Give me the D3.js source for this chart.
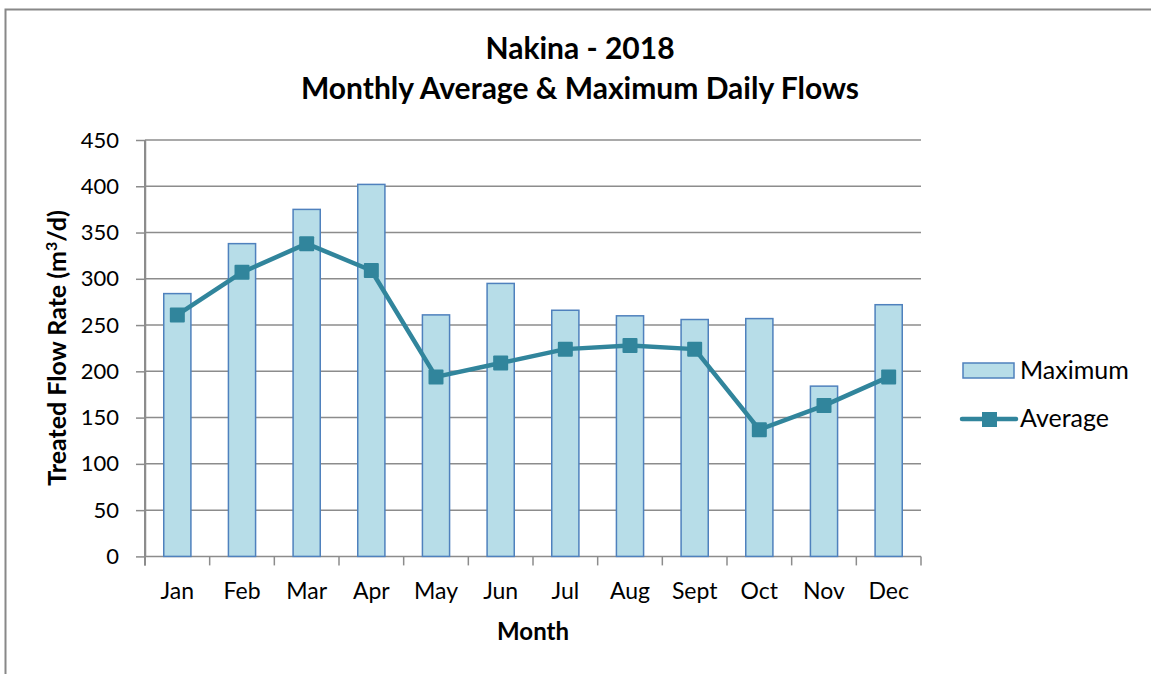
<!DOCTYPE html>
<html lang="en">
<head>
    <meta charset="UTF-8">
    <script src="https://d3js.org/d3.v7.min.js"></script>
    <title>Nakina 2018</title>
    <style>
        body { margin: 0; background: #fff; }
        text { font-family: Lato, "Open Sans", sans-serif; fill: #000; }
    </style>
</head>
<body>
    <script>

        // chart data
        var months = ["Jan", "Feb", "Mar", "Apr", "May", "Jun", "Jul", "Aug", "Sept", "Oct", "Nov", "Dec"];
        var maximum = [284, 338, 375, 402, 261, 295, 266, 260, 256, 257, 184, 272];
        var average = [261, 307, 338, 309, 194, 209, 224, 228, 224, 137, 163, 194];
        var yTicks = [0, 50, 100, 150, 200, 250, 300, 350, 400, 450];

        var width = 1151, height = 674;
        var margin = {top: 140, right: 230, bottom: 117, left: 145};
        var plotRight = 921;

        var svg = d3.select("body")
            .append("svg")
            .attr("width", width)
            .attr("height", height);

        // outer chart border
        svg.append("rect")
            .attr("x", 5.5).attr("y", 9.5)
            .attr("width", width + 20).attr("height", height + 20)
            .attr("fill", "none")
            .attr("stroke", "#888")
            .attr("stroke-width", 2);

        var xScale = d3.scaleBand()
            .domain(months)
            .range([margin.left, plotRight])
            .paddingInner(0.58)
            .paddingOuter(0.29);

        var xBand = d3.scaleBand()
            .domain(months)
            .range([margin.left, plotRight]);

        var yScale = d3.scaleLinear()
            .domain([0, 450])
            .range([height - margin.bottom - 0.6, margin.top]);

        // grid lines
        svg.append("g")
            .selectAll("line")
            .data(yTicks)
            .enter()
            .append("line")
            .attr("x1", margin.left)
            .attr("x2", plotRight)
            .attr("y1", function(d) {return yScale(d)})
            .attr("y2", function(d) {return yScale(d)})
            .attr("stroke", "#8c8c8c")
            .attr("stroke-width", 1.5);

        // y axis
        var yAxis = d3.axisLeft(yScale)
            .tickValues(yTicks)
            .tickSize(9)
            .tickSizeOuter(0)
            .tickPadding(17);

        var gy = svg.append("g")
            .attr("transform", "translate(" + margin.left + ",0)")
            .call(yAxis);
        gy.selectAll("text").style("font-size", "22px");

        // x axis - ticks at band edges
        var xAxisG = svg.append("g")
            .attr("transform", "translate(0," + yScale(0) + ")");

        var edges = months.map(function(m) {return xBand(m)}).concat([plotRight]);
        xAxisG.selectAll("line.tick")
            .data(edges)
            .enter()
            .append("line")
            .attr("class", "tick")
            .attr("x1", function(d) {return d})
            .attr("x2", function(d) {return d})
            .attr("y1", 0)
            .attr("y2", 9);

        xAxisG.selectAll("text")
            .data(months)
            .enter()
            .append("text")
            .attr("x", function(d) {return xBand(d) + xBand.bandwidth() / 2})
            .attr("y", 43)
            .attr("text-anchor", "middle")
            .style("font-size", "23px")
            .text(function(d) {return d});

        svg.selectAll(".domain, .tick line, line.tick")
            .attr("stroke", "#8c8c8c")
            .attr("stroke-width", 1.5);

        svg.append("line")
            .attr("x1", margin.left).attr("x2", margin.left)
            .attr("y1", yScale(450)).attr("y2", yScale(0) + 9)
            .attr("stroke", "#8c8c8c").attr("stroke-width", 2);

        // bars
        svg.append("g")
            .selectAll("rect")
            .data(maximum)
            .enter()
            .append("rect")
            .attr("x", function(d, i) {return xScale(months[i])})
            .attr("y", function(d) {return yScale(d)})
            .attr("width", xScale.bandwidth())
            .attr("height", function(d) {return yScale(0) - yScale(d)})
            .attr("fill", "#b7dde8")
            .attr("stroke", "#4f81bd")
            .attr("stroke-width", 1.5);

        // average line
        var line = d3.line()
            .x(function(d, i) {return xBand(months[i]) + xBand.bandwidth() / 2})
            .y(function(d) {return yScale(d)});

        svg.append("path")
            .datum(average)
            .attr("d", line)
            .attr("fill", "none")
            .attr("stroke", "#31859c")
            .attr("stroke-width", 4.5)
            .attr("stroke-linejoin", "round");

        svg.append("g")
            .selectAll("rect")
            .data(average)
            .enter()
            .append("rect")
            .attr("x", function(d, i) {return xBand(months[i]) + xBand.bandwidth() / 2 - 7.5})
            .attr("y", function(d) {return yScale(d) - 7.5})
            .attr("width", 15)
            .attr("height", 15)
            .attr("rx", 1)
            .attr("fill", "#31859c");

        // titles
        svg.append("text")
            .attr("x", 580).attr("y", 59)
            .attr("text-anchor", "middle")
            .style("font-size", "30px").style("font-weight", "bold")
            .text("Nakina - 2018");

        svg.append("text")
            .attr("x", 580).attr("y", 99)
            .attr("text-anchor", "middle")
            .style("font-size", "30px").style("font-weight", "bold")
            .text("Monthly Average & Maximum Daily Flows");

        svg.append("text")
            .attr("x", 533).attr("y", 640)
            .attr("text-anchor", "middle")
            .style("font-size", "24px").style("font-weight", "bold")
            .text("Month");

        var yTitle = svg.append("text")
            .attr("transform", "translate(66,348) rotate(-90)")
            .attr("text-anchor", "middle")
            .style("font-size", "25px").style("font-weight", "bold");
        yTitle.append("tspan").text("Treated Flow Rate (m");
        yTitle.append("tspan").attr("dy", -9).style("font-size", "16px").text("3");
        yTitle.append("tspan").attr("dy", 9).text("/d)");

        // legend
        var legend = svg.append("g");
        legend.append("rect")
            .attr("x", 963).attr("y", 363)
            .attr("width", 51).attr("height", 15)
            .attr("fill", "#b7dde8")
            .attr("stroke", "#4f81bd")
            .attr("stroke-width", 1.5);
        legend.append("text")
            .attr("x", 1020).attr("y", 379)
            .style("font-size", "25px")
            .text("Maximum");
        legend.append("line")
            .attr("x1", 962).attr("x2", 1016)
            .attr("y1", 419).attr("y2", 419)
            .attr("stroke", "#31859c")
            .attr("stroke-width", 4.5)
            .attr("stroke-linecap", "round");
        legend.append("rect")
            .attr("x", 982).attr("y", 412)
            .attr("width", 15).attr("height", 15)
            .attr("fill", "#31859c");
        legend.append("text")
            .attr("x", 1020).attr("y", 427)
            .style("font-size", "25px")
            .text("Average");

    </script>
</body>
</html>
